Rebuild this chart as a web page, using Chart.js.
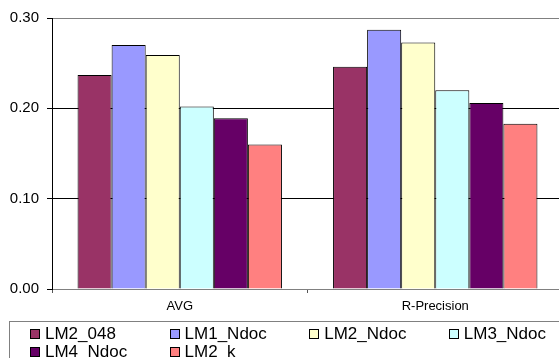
<!DOCTYPE html>
<html>
<head>
<meta charset="utf-8">
<script src="https://cdn.jsdelivr.net/npm/chart.js@4/dist/chart.umd.min.js"></script>
<style>
  body { margin: 0; overflow: hidden; background: #fff; width: 559px; height: 358px; }
  #wrap { position: absolute; left: 0; top: 0; }
  #legend { position: absolute; left: 9px; top: 321px; width: 600px; height: 60px;
    border: 1px solid #808080; box-sizing: border-box; }
  .item { position: absolute; font-family: "Liberation Sans", Arial, sans-serif;
    font-size: 17px; line-height: 18px; color: #000; white-space: nowrap; }
  .box { position: absolute; width: 10px; height: 10px; border: 1px solid #000; box-sizing: border-box; }
</style>
</head>
<body>
<div id="wrap"><canvas id="myChart" width="563" height="358"></canvas></div>
<div id="legend"></div>
<script>
// categories and series
categories = ["AVG", "R-Precision"];
seriesNames = ["LM2_048", "LM1_Ndoc", "LM2_Ndoc", "LM3_Ndoc", "LM4_Ndoc", "LM2_k"];
seriesColors = ["#993366", "#9999FF", "#FFFFCC", "#CCFFFF", "#660066", "#FF8080"];
lm2_048 = [0.237, 0.246];
lm1_ndoc = [0.270, 0.287];
lm2_ndoc = [0.259, 0.273];
lm3_ndoc = [0.202, 0.220];
lm4_ndoc = [0.189, 0.206];
lm2_k = [0.160, 0.183];
yTicks = [0, 0.1, 0.2, 0.3];

allSeries = [lm2_048, lm1_ndoc, lm2_ndoc, lm3_ndoc, lm4_ndoc, lm2_k];
datasets = [];
for (i = 0; i < allSeries.length; i++) {
  datasets.push({
    label: seriesNames[i],
    data: allSeries[i],
    backgroundColor: seriesColors[i],
    borderColor: "#000",
    borderWidth: 1,
    categoryPercentage: 0.8,
    barPercentage: 1.0,
  });
}

font = "'Liberation Sans', Arial, sans-serif";

config = {
  type: "bar",
  data: { labels: categories, datasets: datasets },
  options: {
    responsive: false,
    animation: false,
    layout: { padding: { left: 0, top: 18, right: 0, bottom: 39 } },
    plugins: { legend: { display: false }, tooltip: { enabled: false } },
    scales: {
      x: {
        afterFit: function (scale) { scale.height = 30; },
        grid: {
          offset: true,
          drawOnChartArea: false,
          tickLength: 4,
          color: "#555",
        },
        border: { color: "#808080", width: 1 },
        ticks: { color: "#000", font: { family: font, size: 13 }, padding: 6 },
      },
      y: {
        min: 0,
        max: 0.3,
        afterFit: function (scale) { scale.width = 52; },
        afterBuildTicks: function (scale) {
          scale.ticks = yTicks.map(function (v) { return { value: v }; });
        },
        grid: {
          color: function (ctx) {
            if (ctx.tick && (ctx.tick.value >= 0.3 || ctx.tick.value === 0)) return "#808080";
            return "#000";
          },
          tickColor: "#000",
          tickLength: 5,
        },
        border: { color: "#000", width: 1 },
        ticks: {
          color: "#000",
          padding: 8,
          font: { family: font, size: 15 },
          callback: function (v) { return Number(v).toFixed(2); },
        },
      },
    },
  },
};
myChart = new Chart(document.getElementById("myChart"), config);

// legend box like the original, four columns
legendDiv = document.getElementById("legend");
for (let i = 0; i < seriesNames.length; i++) {
  let col = i % 4;
  let row = Math.floor(i / 4);
  let boxX = 30 + col * 139.6 - 10;
  let boxY = 329 + row * 18 - 322;
  let box = document.createElement("div");
  box.className = "box";
  box.style.left = boxX + "px";
  box.style.top = boxY + "px";
  box.style.background = seriesColors[i];
  legendDiv.appendChild(box);
  let item = document.createElement("div");
  item.className = "item";
  item.style.left = boxX + 15 + "px";
  item.style.top = boxY - 4 + "px";
  item.textContent = seriesNames[i];
  legendDiv.appendChild(item);
}
</script>
</body>
</html>
